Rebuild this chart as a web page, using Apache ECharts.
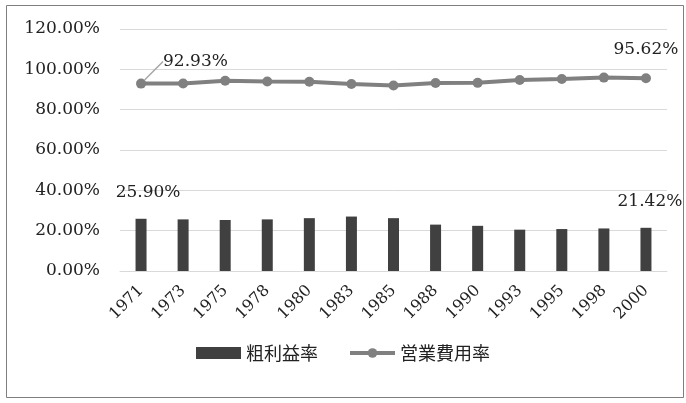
<!DOCTYPE html>
<html><head><meta charset="utf-8">
<script src="https://cdn.jsdelivr.net/npm/echarts@6/dist/echarts.min.js"></script>
<style>html,body{margin:0;padding:0;background:#fff}#c{width:686px;height:403px}</style>
</head><body><div id="c"></div>
<script>
const categories = ['1971','1973','1975','1978','1980','1983','1985','1988','1990','1993','1995','1998','2000'];
const grossMargin = [25.90,25.6,25.3,25.6,26.2,27.0,26.2,23.0,22.4,20.5,20.8,21.1,21.42];
const opExpenseRatio = [92.93,93.0,94.3,94.0,93.8,92.7,92.0,93.2,93.3,94.7,95.2,95.9,95.62];
const yTicks = {min:0, max:120, interval:20};
const seriesNames = ['粗利益率','営業費用率'];

const FONT = '"DejaVu Serif","Liberation Serif","Noto Sans CJK JP",serif';
const TXT = '#222222';
const FS = 17;
const chart = echarts.init(document.getElementById('c'));
const lastIdx = categories.length - 1;
const fmt = v => v.toFixed(2) + '%';
chart.setOption({
  animation:false,
  textStyle:{fontFamily:FONT, color:TXT},
  graphic:[{type:'rect', shape:{x:6.5,y:5.5,width:677,height:392}, style:{fill:'none', stroke:'#7f7f7f', lineWidth:1}}],
  grid:{left:120, right:19, top:29, bottom:132},
  legend:{bottom:36, left:'center', itemWidth:45, itemHeight:12, itemGap:30,
    textStyle:{fontFamily:'"Noto Sans CJK JP",serif', fontSize:18, color:TXT},
    data:[{name:seriesNames[0], icon:'rect'},
          {name:seriesNames[1], lineStyle:{width:4, color:'#808080'}, itemStyle:{color:'#808080'}}]},
  xAxis:{type:'category', data:categories,
    axisLine:{lineStyle:{color:'#d9d9d9', width:1}}, axisTick:{show:false},
    axisLabel:{rotate:45, margin:17, fontSize:16, color:TXT, fontFamily:FONT, interval:0}},
  yAxis:{type:'value', min:yTicks.min, max:yTicks.max, interval:yTicks.interval,
    axisLine:{show:false}, axisTick:{show:false},
    splitLine:{lineStyle:{color:'#d9d9d9', width:1}},
    axisLabel:{margin:20, fontSize:FS, color:TXT, fontFamily:FONT, formatter:v=>fmt(v)}},
  series:[
    {name:seriesNames[0], type:'bar', barWidth:11, itemStyle:{color:'#404040'},
     data:grossMargin.map((v,i)=>({value:v,
       label:{show:(i===0||i===lastIdx), position:'top', distance:18, offset:[i===0?7:4,0],
         formatter:p=>fmt(p.value), fontSize:FS, color:TXT, fontFamily:FONT}}))},
    {name:seriesNames[1], type:'line', symbol:'circle', symbolSize:10,
     itemStyle:{color:'#808080'}, lineStyle:{color:'#808080', width:4},
     data:opExpenseRatio.map((v,i)=>({value:v,
       labelLine:{show:i===0, lineStyle:{color:'#a6a6a6', width:1.5}},
       label:{show:(i===0||i===lastIdx), position:'top', distance:15, offset:[i===0?0:2,0],
         formatter:p=>fmt(p.value), fontSize:FS, color:TXT, fontFamily:FONT}})),
     labelLayout:function(p){ if(p.dataIndex===0){ const cy=p.rect.y+p.rect.height/2; return {x:p.rect.x+p.rect.width/2+22, y:cy-22, align:'left', verticalAlign:'middle'}; } return {}; }}
  ]
});
</script></body></html>
